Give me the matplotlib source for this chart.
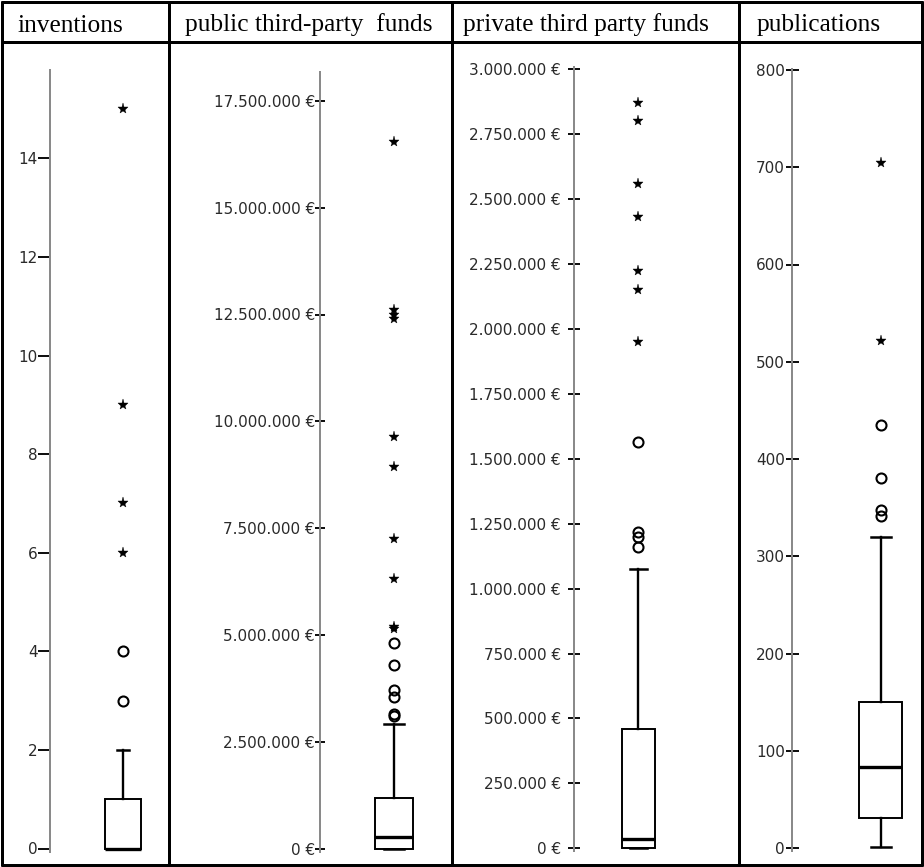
import matplotlib
matplotlib.use("Agg")
import matplotlib.pyplot as plt
from matplotlib.ticker import FixedLocator, FuncFormatter
import numpy as np

W, H, DPI = 924, 867, 100

headers = ["inventions", "public third-party  funds", "private third party funds", "publications"]

# ---- data ----
inv_box = dict(q1=0, med=0, q3=1, whislo=0, whishi=2)
inv_circles = [3, 4]
inv_stars = [6, 7, 9, 15]
inv_ticks = [0, 2, 4, 6, 8, 10, 12, 14]

pub_box = dict(q1=10000, med=270000, q3=1190000, whislo=0, whishi=2920000)
pub_circles = [3100000, 3160000, 3560000, 3720000, 4300000, 4820000]
pub_stars = [5140000, 5200000, 6310000, 7250000, 8940000, 9640000,
             12400000, 12500000, 12600000, 16540000]
pub_ticks = [0, 2500000, 5000000, 7500000, 10000000, 12500000, 15000000, 17500000]

priv_box = dict(q1=3000, med=36000, q3=458000, whislo=0, whishi=1077000)
priv_circles = [1160000, 1199000, 1218000, 1564000]
priv_stars = [1950000, 2149000, 2224000, 2432000, 2558000, 2802000, 2869000]
priv_ticks = [0, 250000, 500000, 750000, 1000000, 1250000, 1500000, 1750000,
              2000000, 2250000, 2500000, 2750000, 3000000]

publ_box = dict(q1=31, med=84, q3=150, whislo=1, whishi=320)
publ_circles = [342, 348, 381, 435]
publ_stars = [521, 704]
publ_ticks = [0, 100, 200, 300, 400, 500, 600, 700, 800]


def euro(v, pos=None):
    return f"{v:,.0f}".replace(",", ".") + " \u20ac"


def plain(v, pos=None):
    return f"{v:.0f}"


PX2PT = 72.0 / DPI

fig = plt.figure(figsize=(W / DPI, H / DPI), dpi=DPI)
fig.patch.set_facecolor("white")

# background axes for table grid and headers (pixel coordinates)
bg = fig.add_axes([0, 0, 1, 1], zorder=0)
bg.set_xlim(0, W)
bg.set_ylim(H, 0)
bg.axis("off")
lw_tab = 3 * PX2PT
for y in (2, 42, 865):
    bg.plot([1, 923], [y, y], color="black", lw=lw_tab, solid_capstyle="butt")
for x in (2, 169, 451.5, 739, 922):
    bg.plot([x, x], [1, 866], color="black", lw=lw_tab, solid_capstyle="butt")
for x, t in zip((17, 185, 463, 757), headers):
    bg.text(x, 31.5, t, fontsize=18.3, family="Liberation Serif", va="baseline",
            ha="left", color="black")

panels = [
    dict(spine=50, cx=123, bw=36, cw=12, y0=848.5, ppu=49.3, top=15.8, right=166,
         box=inv_box, circ=inv_circles, star=inv_stars, ticks=inv_ticks, fmt=plain,
         tdir="out", tlen=12, tpad=0.5),
    dict(spine=320, cx=394, bw=38, cw=20, y0=849, ppu=42.76e-6, top=18.18e6, right=448,
         box=pub_box, circ=pub_circles, star=pub_stars, ticks=pub_ticks, fmt=euro,
         tdir="inout", tlen=10, tpad=0),
    dict(spine=574, cx=638, bw=33, cw=17, y0=848.3, ppu=259.7e-6, top=3.007e6, right=736,
         box=priv_box, circ=priv_circles, star=priv_stars, ticks=priv_ticks, fmt=euro,
         tdir="inout", tlen=12, tpad=7),
    dict(spine=792.3, cx=880.7, bw=43, cw=20, y0=848.3, ppu=0.973, top=800.5, right=919,
         box=publ_box, circ=publ_circles, star=publ_stars, ticks=publ_ticks, fmt=plain,
         tdir="inout", tlen=13, tpad=1),
]

for p in panels:
    top_px = p["y0"] - p["top"] * p["ppu"]
    bot_px = p["y0"] + 3
    ax = fig.add_axes([p["spine"] / W, (H - bot_px) / H,
                       (p["right"] - p["spine"]) / W, (bot_px - top_px) / H], zorder=2)
    ax.patch.set_alpha(0)
    ax.set_ylim(-3 / p["ppu"], p["top"])
    ax.set_xlim(-(p["cx"] - p["spine"]), p["right"] - p["cx"])
    for s in ("top", "right", "bottom"):
        ax.spines[s].set_visible(False)
    ax.spines["left"].set_color("#8a8a8a")
    ax.spines["left"].set_linewidth(2 * PX2PT)
    ax.set_xticks([])
    ax.yaxis.set_major_locator(FixedLocator(p["ticks"]))
    ax.yaxis.set_major_formatter(FuncFormatter(p["fmt"]))
    ax.tick_params(axis="y", direction=p["tdir"], length=p["tlen"] * PX2PT,
                   width=2 * PX2PT, color="#111111", pad=p["tpad"] * PX2PT,
                   labelsize=11, labelcolor="#2a2a2a")
    b = p["box"]
    stats = [dict(med=b["med"], q1=b["q1"], q3=b["q3"], whislo=b["whislo"],
                  whishi=b["whishi"], fliers=[])]
    ax.bxp(stats, positions=[0], widths=[p["bw"]], capwidths=[p["cw"]],
           showfliers=False, patch_artist=True, manage_ticks=False,
           boxprops=dict(facecolor="white", edgecolor="black", linewidth=1.4),
           medianprops=dict(color="black", linewidth=2.4, solid_capstyle="butt"),
           whiskerprops=dict(color="black", linewidth=1.7),
           capprops=dict(color="black", linewidth=1.8))
    ax.plot(np.zeros(len(p["circ"])), p["circ"], ls="none", marker="o", ms=7.2,
            mfc="none", mec="black", mew=1.5, clip_on=False)
    ax.plot(np.zeros(len(p["star"])), p["star"], ls="none", marker="*", ms=8,
            mfc="black", mec="black", mew=0.3, clip_on=False)

fig.savefig("out.png", dpi=DPI, facecolor="white")
